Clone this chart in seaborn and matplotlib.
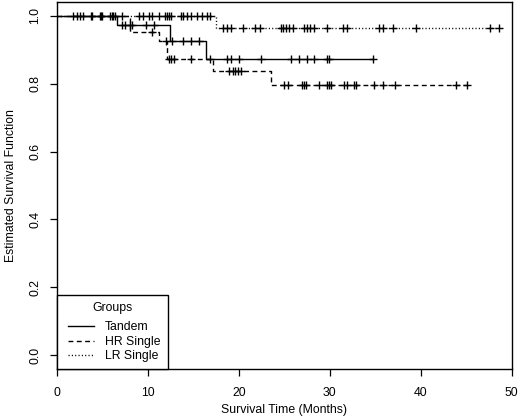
import numpy as np
import pandas as pd
import matplotlib
matplotlib.use("Agg")
import matplotlib.pyplot as plt
from matplotlib.lines import Line2D
from matplotlib.legend_handler import HandlerLine2D
import seaborn as sns

# ---------------- data ----------------
groups = ["Tandem", "HR Single", "LR Single"]

tandem_event_times = [6.6, 12.4, 16.4]
tandem_event_surv = [0.971, 0.926, 0.871]
tandem_censor_times = [1.8, 2.9, 4.8, 6.0,
                       7.2, 7.5, 8.0, 8.2, 9.8, 10.7,
                       12.6, 13.9, 14.7, 15.6,
                       18.7, 19.1, 20.0, 22.4, 25.7, 26.6, 27.5, 28.3, 29.7, 29.9, 34.7]

hr_event_times = [8.0, 11.2, 12.1, 17.2, 23.5]
hr_event_surv = [0.951, 0.926, 0.871, 0.838, 0.797]
hr_censor_times = [2.2, 3.8, 5.0, 6.2,
                   10.4,
                   12.0, 12.3, 12.5, 12.9, 14.7, 16.8,
                   18.9, 19.3, 19.6, 19.85, 20.2,
                   25.0, 25.4, 26.9, 27.2, 27.4, 28.8, 29.7, 29.9, 30.1, 31.6, 31.9,
                   32.7, 32.9, 34.9, 35.9, 37.2, 43.9, 45.1]

lr_event_times = [17.5]
lr_event_surv = [0.963]
lr_censor_times = [2.5, 3.7, 4.7, 5.8, 6.4, 7.1,
                   9.0, 9.5, 10.1, 10.4, 11.2, 11.9, 12.1, 12.3, 12.5, 13.6, 13.9,
                   14.3, 14.7, 15.4, 15.95, 16.5, 16.8,
                   18.2, 18.7, 19.1, 20.5, 21.8, 22.3, 24.6, 24.9, 25.2, 25.5, 25.9,
                   27.2, 27.5, 27.8, 28.3, 29.7, 31.4, 31.9, 35.4, 35.9, 37.0, 39.5,
                   47.6, 48.6]

x_ticks = [0, 10, 20, 30, 40, 50]
y_ticks = [0.0, 0.2, 0.4, 0.6, 0.8, 1.0]
x_label = "Survival Time (Months)"
y_label = "Estimated Survival Function"
legend_title = "Groups"

# ---------------- build tables ----------------
series = {
    "Tandem": (tandem_event_times, tandem_event_surv, tandem_censor_times),
    "HR Single": (hr_event_times, hr_event_surv, hr_censor_times),
    "LR Single": (lr_event_times, lr_event_surv, lr_censor_times),
}

curve_rows, cens_rows = [], []
for g in groups:
    et, es, ct = series[g]
    last = max(max(ct), max(et))
    ts = [0.0] + list(et) + [last]
    ss = [1.0] + list(es) + [es[-1]]
    for t, s in zip(ts, ss):
        curve_rows.append((g, t, s))
    et_arr = np.array(et)
    for c in ct:
        idx = np.searchsorted(et_arr, c, side="right")
        s = 1.0 if idx == 0 else es[idx - 1]
        cens_rows.append((g, c, s))

curves = pd.DataFrame(curve_rows, columns=["group", "time", "surv"])
cens = pd.DataFrame(cens_rows, columns=["group", "time", "surv"])

# ---------------- style ----------------
FS = 8.8
plt.rcParams["font.family"] = ["Liberation Sans", "DejaVu Sans"]
plt.rcParams["font.size"] = FS

dash_map = {"Tandem": "", "HR Single": (3.5, 2.5), "LR Single": (0.8, 1.6)}

fig = plt.figure(figsize=(5.2, 4.2), dpi=100)
ax = fig.add_axes([57 / 520, 1 - 369 / 420, (511.7 - 57) / 520, (369 - 2) / 420])

sns.lineplot(data=curves, x="time", y="surv", style="group", style_order=groups,
             dashes=dash_map, color="black", linewidth=1.0, estimator=None,
             sort=False, drawstyle="steps-post", legend=False, ax=ax)

for g in groups:
    sub = cens[cens["group"] == g]
    sns.scatterplot(data=sub, x="time", y="surv", marker="+", s=38,
                    color="black", linewidth=1.0, legend=False, ax=ax, zorder=3)

ax.set_xlim(0, 50)
ax.set_ylim(-0.04, 1.04)
ax.set_xticks(x_ticks)
ax.set_xticklabels([str(v) for v in x_ticks])
ax.set_yticks(y_ticks)
ax.set_yticklabels([f"{v:.1f}" for v in y_ticks], rotation=90, va="center")
ax.tick_params(direction="out", length=5, width=0.9, colors="black", labelsize=FS)
ax.tick_params(axis="x", pad=8.2)
ax.tick_params(axis="y", pad=6.2)
for sp in ax.spines.values():
    sp.set_visible(True)
    sp.set_linewidth(1.0)
    sp.set_color("black")

ax.set_xlabel(x_label, fontsize=FS)
ax.set_ylabel(y_label, fontsize=FS)
ax.xaxis.set_label_coords(0.5, -0.096)
ax.yaxis.set_label_coords(-0.087, 0.5)

handles = [Line2D([], [], color="black", linewidth=1.0, linestyle="-"),
           Line2D([], [], color="black", linewidth=1.0, linestyle=(0, (3.5, 2.5))),
           Line2D([], [], color="black", linewidth=1.0, linestyle=(0, (0.8, 1.6)))]
hmap = {h: HandlerLine2D(xpad=0.35) for h in handles}
leg = ax.legend(handles, groups, title=legend_title, loc="lower left",
                bbox_to_anchor=(0, 0, 12.2 / 50, 1), mode="expand",
                borderaxespad=0, fancybox=False, framealpha=1, edgecolor="black",
                handlelength=2.5, handletextpad=0.85, labelspacing=0.2,
                borderpad=0.55, fontsize=FS, title_fontsize=FS, handler_map=hmap)
leg.get_frame().set_linewidth(1.0)
leg._legend_box.sep = leg._legend_box.sep + 3.5

fig.savefig("out.png", dpi=100)
